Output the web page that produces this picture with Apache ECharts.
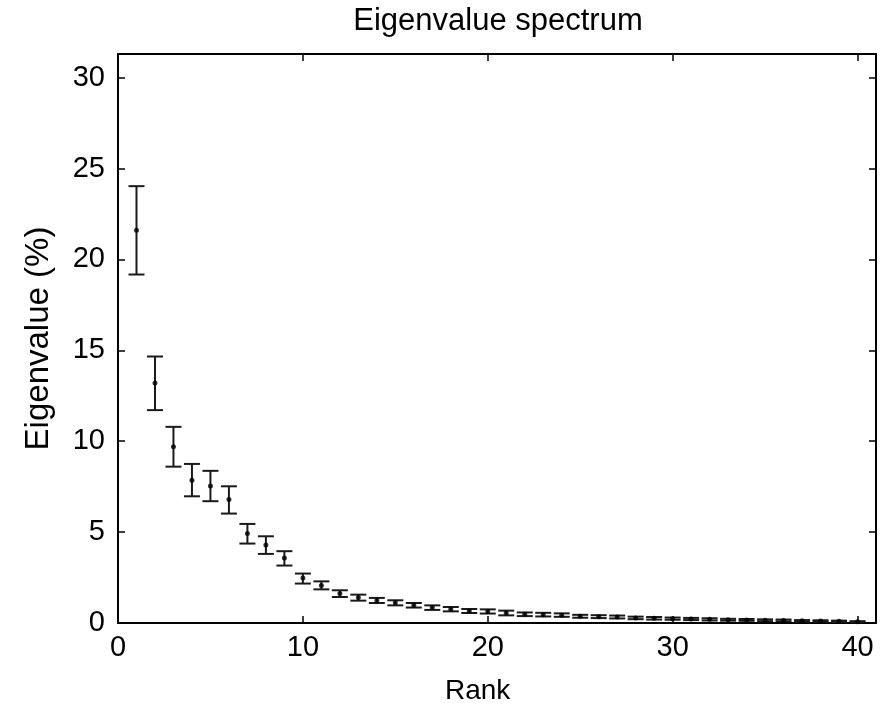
<!DOCTYPE html>
<html>
<head>
<meta charset="utf-8">
<script src="https://cdn.jsdelivr.net/npm/echarts@6/dist/echarts.min.js"></script>
<style>
html,body{margin:0;padding:0;background:#fff;}
#chart{width:881px;height:712px;}
</style>
</head>
<body>
<div id="chart"></div>
<script>
const titleText = 'Eigenvalue spectrum';
const xName = 'Rank';
const yName = 'Eigenvalue (%)';
const ranks = [1,2,3,4,5,6,7,8,9,10,11,12,13,14,15,16,17,18,19,20,21,22,23,24,25,26,27,28,29,30,31,32,33,34,35,36,37,38,39,40];
const meanValues = [21.6, 13.2, 9.7, 7.85, 7.54, 6.79, 4.92, 4.29, 3.58, 2.48, 2.06, 1.62, 1.40, 1.24, 1.11, 0.98, 0.85, 0.76, 0.66, 0.63, 0.55, 0.48, 0.46, 0.43, 0.37, 0.35, 0.33, 0.28, 0.26, 0.24, 0.22, 0.20, 0.18, 0.17, 0.15, 0.14, 0.12, 0.11, 0.09, 0.07];
const lowerValues = [19.17, 11.71, 8.6, 6.97, 6.70, 6.02, 4.37, 3.80, 3.16, 2.17, 1.85, 1.43, 1.23, 1.10, 0.97, 0.85, 0.72, 0.64, 0.55, 0.52, 0.42, 0.38, 0.36, 0.34, 0.29, 0.27, 0.25, 0.21, 0.19, 0.18, 0.16, 0.14, 0.13, 0.12, 0.10, 0.09, 0.08, 0.07, 0.05, 0.04];
const upperValues = [24.03, 14.66, 10.79, 8.75, 8.37, 7.52, 5.45, 4.77, 3.95, 2.72, 2.29, 1.80, 1.56, 1.38, 1.25, 1.10, 0.97, 0.88, 0.77, 0.75, 0.68, 0.58, 0.56, 0.53, 0.45, 0.43, 0.41, 0.35, 0.33, 0.30, 0.28, 0.26, 0.23, 0.22, 0.20, 0.19, 0.16, 0.15, 0.13, 0.10];
const xTicks = [0, 10, 20, 30, 40];
const yTicks = [0, 5, 10, 15, 20, 25, 30];

const FONT = '"Liberation Sans", Arial, Helvetica, sans-serif';
const chart = echarts.init(document.getElementById('chart'), null, {renderer: 'canvas'});

const errData = ranks.map((r, i) => [r, lowerValues[i], upperValues[i], meanValues[i]]);
const pointData = ranks.map((r, i) => [r, meanValues[i]]);

const axisLineStyle = {color: '#000', width: 2};
const baseX = {
  type: 'value', min: 0, max: 41, interval: 10,
  axisLine: {show: true, onZero: false, lineStyle: axisLineStyle},
  axisTick: {show: true, inside: true, length: 7, lineStyle: {color: '#000', width: 1.5}},
  splitLine: {show: false}
};
const baseY = {
  type: 'value', min: 0, max: 31.3, interval: 5,
  axisLine: {show: true, onZero: false, lineStyle: axisLineStyle},
  axisTick: {show: true, inside: true, length: 7, lineStyle: {color: '#000', width: 1.5}},
  splitLine: {show: false}
};

chart.setOption({
  animation: false,
  backgroundColor: '#fff',
  title: {
    text: titleText, left: 493, textAlign: 'center', top: 1,
    textStyle: {fontFamily: FONT, fontSize: 31, fontWeight: 'normal', color: '#000'}
  },
  graphic: [{
    type: 'text', left: 478 - 33, top: 677,
    style: {text: xName, font: '28px "Liberation Sans", Arial, sans-serif', fill: '#000'}
  }],
  grid: {left: 118, right: 5, top: 54, bottom: 89, containLabel: false},
  xAxis: [
    Object.assign({}, baseX, {
      position: 'bottom',
      axisLabel: {show: true, margin: 10, fontFamily: FONT, fontSize: 29, color: '#000', showMaxLabel: false,
        formatter: v => xTicks.indexOf(v) >= 0 ? String(v) : ''}
    }),
    Object.assign({}, baseX, {position: 'top', axisLabel: {show: false}})
  ],
  yAxis: [
    Object.assign({}, baseY, {
      position: 'left',
      name: yName, nameLocation: 'middle', nameGap: 63, nameRotate: 90,
      nameTextStyle: {fontFamily: FONT, fontSize: 33, color: '#000'},
      axisLabel: {show: true, margin: 13, fontFamily: FONT, fontSize: 29, color: '#000', showMaxLabel: false,
        formatter: v => yTicks.indexOf(v) >= 0 ? String(v) : ''}
    }),
    Object.assign({}, baseY, {position: 'right', axisLabel: {show: false}})
  ],
  series: [
    {
      type: 'custom',
      xAxisIndex: 0, yAxisIndex: 0,
      data: errData,
      renderItem: function (params, api) {
        const x = api.value(0);
        const lo = api.coord([x, api.value(1)]);
        const hi = api.coord([x, api.value(2)]);
        const hw = 8;
        const style = {stroke: '#1a1a1a', lineWidth: 2, fill: null};
        return {
          type: 'group',
          children: [
            {type: 'line', shape: {x1: lo[0], y1: lo[1], x2: hi[0], y2: hi[1]}, style: style},
            {type: 'line', shape: {x1: hi[0] - hw, y1: hi[1], x2: hi[0] + hw, y2: hi[1]}, style: style},
            {type: 'line', shape: {x1: lo[0] - hw, y1: lo[1], x2: lo[0] + hw, y2: lo[1]}, style: style}
          ]
        };
      },
      z: 2
    },
    {
      type: 'scatter',
      xAxisIndex: 0, yAxisIndex: 0,
      data: pointData,
      symbol: 'circle', symbolSize: 5,
      itemStyle: {color: '#000'},
      z: 3
    }
  ]
});
</script>
</body>
</html>
